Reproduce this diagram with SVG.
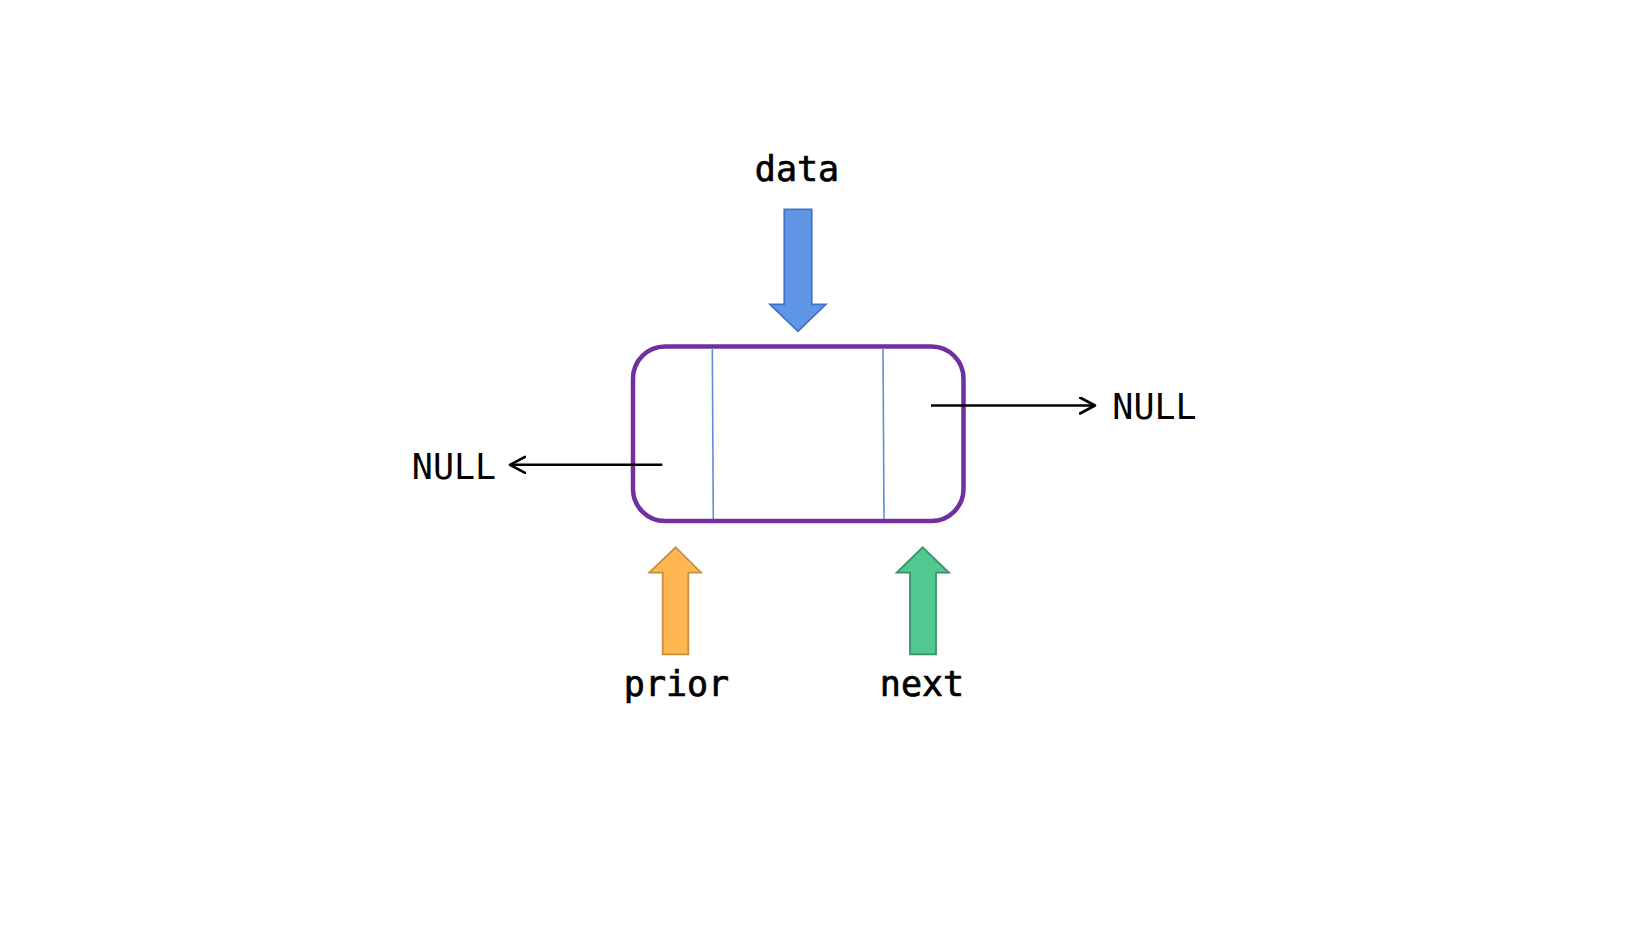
<svg xmlns="http://www.w3.org/2000/svg" width="1640" height="934" viewBox="0 0 1640 934">
<style>
.t{font-family:"DejaVu Sans Mono","Liberation Mono",monospace;font-size:35px;fill:#000;text-anchor:middle}
.b{stroke:#000;stroke-width:0.7}
.ptr{fill:none;stroke:#000;stroke-width:2.6}
</style>
<defs>
<marker id="chev" markerUnits="userSpaceOnUse" markerWidth="20" markerHeight="20" refX="16" refY="9" orient="auto">
<path d="M1,1 L16,9 L1,17" fill="none" stroke="#000" stroke-width="2.6" stroke-linecap="round" stroke-linejoin="round"/>
</marker>
</defs>
<rect width="1640" height="934" fill="#fff"/>
<g id="node">
<rect x="633" y="346.5" width="330.5" height="174.5" rx="32" ry="32" fill="#fff" stroke="#7030A0" stroke-width="4.5"/>
<line x1="712.3" y1="348" x2="713.3" y2="519" stroke="#5B8FD8" stroke-width="1.6"/>
<line x1="883" y1="348" x2="884" y2="519" stroke="#5B8FD8" stroke-width="1.6"/>
</g>
<g id="data-arrow">
<polygon points="784.3,209.3 811.7,209.3 811.7,304.3 825.7,304.3 798,331.3 770,304.3 784.3,304.3" fill="#6096E6" stroke="#4472C4" stroke-width="1.8"/>
<text class="t b" x="797" y="181">data</text>
</g>
<g id="prior-arrow">
<polygon points="675.7,547.3 701,572.7 688.3,572.7 688.3,654.3 662.7,654.3 662.7,572.7 649.3,572.7" fill="#FFB851" stroke="#C8903A" stroke-width="1.8"/>
<text class="t b" x="676.5" y="696">prior</text>
</g>
<g id="next-arrow">
<polygon points="922.7,547.3 949,572.7 936,572.7 936,654.3 910,654.3 910,572.7 896.7,572.7" fill="#52C891" stroke="#3A9068" stroke-width="1.8"/>
<text class="t b" x="922" y="696">next</text>
</g>
<g id="null-left">
<text class="t" x="454" y="479">NULL</text>
</g>
<g id="null-right">
<text class="t" x="1154.5" y="419">NULL</text>
</g>
<g id="connectors">
<line class="ptr" x1="662.3" y1="464.8" x2="510" y2="464.8" marker-end="url(#chev)"/>
<line class="ptr" x1="931" y1="405.5" x2="1095" y2="405.5" marker-end="url(#chev)"/>
</g>
</svg>
